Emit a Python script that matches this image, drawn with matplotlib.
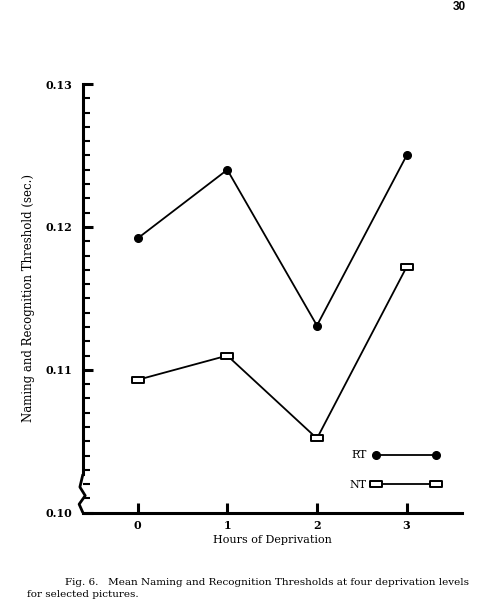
import matplotlib.pyplot as plt
from matplotlib.path import Path
from matplotlib.ticker import MultipleLocator, FormatStrFormatter

hours = [0, 1, 2, 3]
rt = [0.1192, 0.1240, 0.1131, 0.1250]
nt = [0.1093, 0.1110, 0.1052, 0.1172]

plt.rcParams['font.family'] = ['DejaVu Serif']

# wide, flat open box used for NT points
box = Path([(-1, -0.6), (1, -0.6), (1, 0.6), (-1, 0.6), (-1, -0.6)],
           [Path.MOVETO, Path.LINETO, Path.LINETO, Path.LINETO, Path.CLOSEPOLY])

def main():
    fig = plt.figure(figsize=(4.85, 6.09), dpi=100)
    ax = fig.add_axes([0.171, 0.158, 0.782, 0.704])

    ax.plot(hours, rt, color='black', lw=1.3, marker='o', ms=5.5, label='RT')
    ax.plot(hours, nt, color='black', lw=1.3, marker=box, ms=8, mfc='white',
            mew=1.4, label='NT')

    ax.set_xlim(-0.61, 3.62)
    ax.set_ylim(0.10, 0.13)

    for s in ['top', 'right']:
        ax.spines[s].set_visible(False)
    ax.spines['left'].set_linewidth(2.2)
    ax.spines['bottom'].set_linewidth(2.2)
    ax.spines['left'].set_bounds(0.1027, 0.13)

    # axis break squiggle at the bottom of the y axis
    tr = ax.get_yaxis_transform()
    zx = [0.0, -0.008, 0.006, -0.010, 0.0]
    zy = [0.1027, 0.1018, 0.1012, 0.1006, 0.1000]
    ax.plot(zx, zy, color='black', lw=2.0, transform=tr, clip_on=False,
            solid_capstyle='butt')

    ax.yaxis.set_major_locator(MultipleLocator(0.01))
    ax.yaxis.set_minor_locator(MultipleLocator(0.001))
    ax.yaxis.set_major_formatter(FormatStrFormatter('%.2f'))
    ax.set_xticks(hours)
    ax.tick_params(axis='y', which='major', direction='in', length=7, width=2.2,
                   labelsize=8, pad=7.5)
    ax.tick_params(axis='y', which='minor', direction='in', length=5, width=1.5)
    ax.tick_params(axis='x', direction='in', length=7, width=2.2, labelsize=8, pad=5)
    for t in ax.get_yticklabels() + ax.get_xticklabels():
        t.set_fontweight('bold')

    ax.set_xlabel('Hours of Deprivation', fontsize=8, labelpad=3)
    ax.set_ylabel('Naming and Recognition Threshold (sec.)', fontsize=8.5, labelpad=8)

    ax.legend(loc='lower right', bbox_to_anchor=(0.965, 0.03), frameon=False,
              markerfirst=False, numpoints=2, handlelength=6.0, handletextpad=0.5,
              fontsize=8, labelspacing=1.75)

    fig.text(0.947, 0.988, '30', fontsize=8.5, fontweight='bold', ha='center',
             va='center', family='Liberation Sans')
    fig.text(0.134, 0.044, 'Fig. 6.   Mean Naming and Recognition Thresholds at four deprivation levels',
             fontsize=7.5, va='center')
    fig.text(0.056, 0.023, 'for selected pictures.', fontsize=7.5, va='center')

    fig.savefig('out.png', dpi=100)

if __name__ == '__main__':
    main()
